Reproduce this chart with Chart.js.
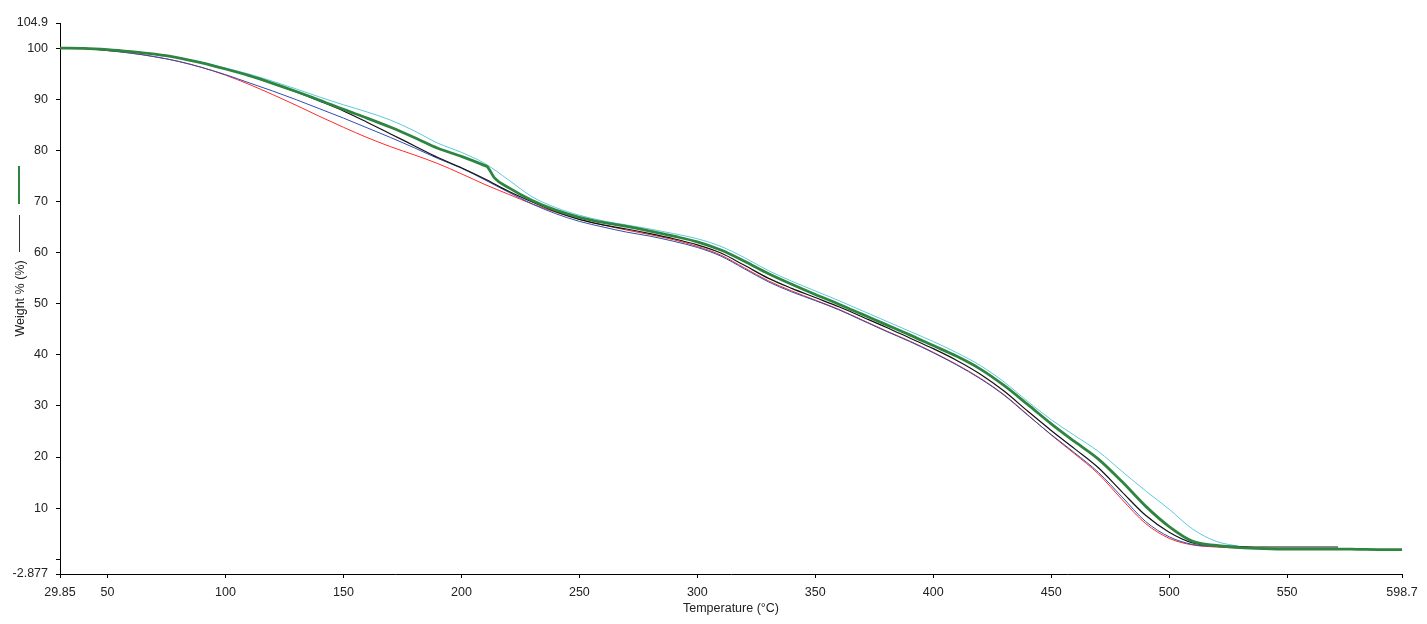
<!DOCTYPE html>
<html>
<head>
<meta charset="utf-8">
<script src="https://cdn.jsdelivr.net/npm/chart.js@4.4.0/dist/chart.umd.min.js"></script>
<style>
  html, body { margin: 0; padding: 0; background: #fff; }
  canvas { display: block; }
</style>
</head>
<body>
<canvas id="tgaChart" width="1427" height="624"></canvas>
<script>
// Temperature points (°C) shared by all runs
const temps = [29.85, 40, 50, 60, 70, 80, 90, 100, 110, 120, 130, 140, 150, 160, 170, 180, 190, 200, 210, 211, 214,
  220, 230, 240, 250, 260, 270, 280, 290, 300, 310, 320, 330, 340, 350, 360, 370, 380, 390, 400, 410, 420, 430, 440,
  450, 460, 470, 480, 490, 500, 510, 520, 530, 540, 550, 560, 570, 571.6, 580, 590, 598.7];

// Weight % for each run (null where the run has no reading)
const greenRun = [100, 99.95, 99.7, 99.3, 98.8, 98.1, 97.1, 95.9, 94.6, 93.1, 91.5, 89.8, 88.0, 86.3, 84.5, 82.5, 80.4, 78.8, 77.0, 76.8, 74.6,
  72.7, 70.2, 68.3, 66.9, 65.9, 65.1, 64.2, 63.2, 62.1, 60.5, 58.3, 55.9, 53.8, 51.8, 49.9, 47.9, 45.9, 43.9, 41.8, 39.7, 37.2, 34.0, 30.3,
  26.5, 23.0, 19.6, 15.2, 10.4, 6.4, 3.5, 2.7, 2.3, 2.1, 2.0, 2.0, 2.0, 2.0, 1.95, 1.9, 1.9];
const blackRun = [100, 99.95, 99.7, 99.3, 98.8, 98.1, 97.1, 95.9, 94.6, 93.1, 91.4, 89.6, 87.7, 85.5, 83.2, 80.9, 78.6, 76.6, 74.4, null, null,
  72.0, 69.9, 68.0, 66.5, 65.4, 64.6, 63.7, 62.7, 61.5, 59.9, 57.5, 55.0, 53.0, 51.2, 49.4, 47.4, 45.4, 43.3, 41.2, 38.9, 36.2, 32.9, 29.0,
  25.2, 21.6, 17.9, 13.2, 8.6, 5.3, 3.2, 2.7, 2.5, 2.4, 2.4, 2.4, 2.4, 2.4, null, null, null];
const cyanRun = [100, 99.95, 99.7, 99.3, 98.8, 98.1, 97.2, 96.1, 94.9, 93.5, 92.0, 90.4, 88.9, 87.5, 85.9, 83.8, 81.4, 79.6, 77.4, null, null,
  74.2, 70.9, 68.8, 67.3, 66.2, 65.4, 64.6, 63.7, 62.7, 61.2, 59.0, 56.5, 54.4, 52.5, 50.6, 48.6, 46.6, 44.6, 42.6, 40.4, 37.9, 34.7, 30.9,
  27.3, 24.2, 21.1, 17.2, 13.4, 9.8, 5.9, 3.5, 2.5, null, null, null, null, null, null, null, null];
const blueRun = [100, 99.9, 99.5, 99.0, 98.3, 97.4, 96.2, 94.8, 93.2, 91.6, 89.9, 88.1, 86.3, 84.4, 82.5, 80.5, 78.4, 76.5, 74.2, null, null,
  71.8, 69.5, 67.6, 66.1, 65.0, 64.0, 63.2, 62.2, 61.0, 59.3, 56.8, 54.3, 52.3, 50.6, 48.8, 46.7, 44.6, 42.6, 40.4, 38.0, 35.3, 32.1, 28.2,
  24.4, 20.8, 17.0, 12.2, 7.4, 4.4, 2.9, 2.5, 2.3, null, null, null, null, null, null, null, null];
const redRun = [100, 99.9, 99.5, 99.0, 98.3, 97.4, 96.2, 94.7, 92.9, 90.9, 88.8, 86.6, 84.5, 82.5, 80.7, 79.1, 77.4, 75.4, 73.3, null, null,
  71.4, 69.5, 67.9, 66.5, 65.4, 64.4, 63.5, 62.5, 61.2, 59.5, 57.0, 54.5, 52.5, 50.7, 48.9, 46.8, 44.7, 42.7, 40.5, 38.1, 35.4, 32.2, 28.3,
  24.3, 20.6, 16.7, 11.7, 7.0, 4.1, 2.8, 2.4, 2.2, null, null, null, null, null, null, null, null];

// Axis tick values
const xTicks = [29.85, 50, 100, 150, 200, 250, 300, 350, 400, 450, 500, 550, 598.7];
const yTicks = [-2.877, 0, 10, 20, 30, 40, 50, 60, 70, 80, 90, 100, 104.9];

const toPoints = (vals) => temps.map((t, i) => ({ x: t, y: vals[i] }));

const font = { family: "'Liberation Sans', Arial, sans-serif", size: 12.5 };
const textColor = "#222";

// little vertical legend samples next to the y-axis title
const sideLegend = {
  id: "sideLegend",
  afterDraw(chart) {
    const ctx = chart.ctx;
    ctx.save();
    ctx.strokeStyle = "#2e8540";
    ctx.lineWidth = 2;
    ctx.beginPath();
    ctx.moveTo(19, 166);
    ctx.lineTo(19, 204);
    ctx.stroke();
    ctx.strokeStyle = "#333";
    ctx.lineWidth = 1;
    ctx.beginPath();
    ctx.moveTo(19.5, 215);
    ctx.lineTo(19.5, 252);
    ctx.stroke();
    ctx.restore();
  },
};

const line = (label, vals, color, width, order) => ({
  label,
  data: toPoints(vals),
  borderColor: color,
  borderWidth: width,
  pointRadius: 0,
  fill: false,
  spanGaps: true,
  cubicInterpolationMode: "monotone",
  order,
});

new Chart(document.getElementById("tgaChart"), {
  type: "line",
  data: {
    datasets: [
      line("Run 5", greenRun, "#2e8540", 2.8, 1),
      line("Run 4", blackRun, "#111111", 1.2, 2),
      line("Run 3", cyanRun, "#5cc9da", 1, 3),
      line("Run 2", blueRun, "#2c4fae", 1, 4),
      line("Run 1", redRun, "#ff2a2a", 1, 5),
    ],
  },
  options: {
    responsive: false,
    animation: false,
    devicePixelRatio: 1,
    layout: { padding: { top: 23, right: 25, left: 0, bottom: 0 } },
    plugins: { legend: { display: false }, tooltip: { enabled: false } },
    scales: {
      x: {
        type: "linear",
        min: 29.85,
        max: 598.7,
        afterBuildTicks: (s) => { s.ticks = xTicks.map((v) => ({ value: v })); },
        afterFit: (s) => { s.height = 50; },
        ticks: { autoSkip: false, maxRotation: 0, padding: 7, font, color: textColor,
          callback: (v) => String(v) },
        grid: { drawOnChartArea: false, tickLength: 4, color: "#000" },
        border: { color: "#000", width: 1 },
        title: { display: true, text: "Temperature (°C)", font, color: textColor, padding: { top: 0, bottom: 8 } },
      },
      y: {
        type: "linear",
        min: -2.877,
        max: 104.9,
        afterBuildTicks: (s) => { s.ticks = yTicks.map((v) => ({ value: v })); },
        afterFit: (s) => { s.width = 60; },
        ticks: { autoSkip: false, padding: 8, font, color: textColor,
          callback: (v) => (v === 0 ? "" : String(v)) },
        grid: { drawOnChartArea: false, tickLength: 4, color: "#000" },
        border: { color: "#000", width: 1 },
        title: { display: true, text: "Weight % (%)", font, color: textColor, padding: { top: 13, bottom: 0 } },
      },
    },
  },
  plugins: [sideLegend],
});
</script>
</body>
</html>
